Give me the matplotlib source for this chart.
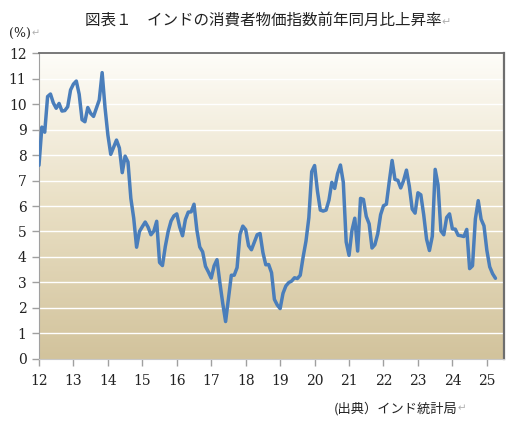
# インドの消費者物価指数（前年同月比）のグラフ
import numpy as np
import matplotlib.pyplot as plt
from matplotlib.colors import LinearSegmentedColormap

# 月次データ（2012年1月〜2025年4月）
y2012 = [7.6, 9.1, 8.9, 10.3, 10.4, 10.05, 9.84, 10.03, 9.73, 9.75, 9.90, 10.56]
y2013 = [10.79, 10.91, 10.39, 9.39, 9.31, 9.87, 9.64, 9.52, 9.84, 10.17, 11.24, 9.87]
y2014 = [8.79, 8.03, 8.31, 8.59, 8.28, 7.31, 7.96, 7.73, 6.30, 5.52, 4.38, 5.00]
y2015 = [5.19, 5.37, 5.17, 4.87, 5.01, 5.40, 3.78, 3.66, 4.41, 5.00, 5.41, 5.61]
y2016 = [5.69, 5.18, 4.83, 5.47, 5.76, 5.77, 6.07, 5.05, 4.39, 4.20, 3.63, 3.41]
y2017 = [3.17, 3.65, 3.89, 2.99, 2.18, 1.46, 2.36, 3.28, 3.28, 3.58, 4.88, 5.21]
y2018 = [5.07, 4.44, 4.28, 4.58, 4.87, 4.92, 4.17, 3.69, 3.70, 3.38, 2.33, 2.11]
y2019 = [1.97, 2.57, 2.86, 2.99, 3.05, 3.18, 3.15, 3.28, 3.99, 4.62, 5.54, 7.35]
y2020 = [7.59, 6.58, 5.84, 5.80, 5.84, 6.23, 6.93, 6.69, 7.27, 7.61, 6.93, 4.59]
y2021 = [4.06, 5.03, 5.52, 4.23, 6.30, 6.26, 5.59, 5.30, 4.35, 4.48, 4.91, 5.66]
y2022 = [6.01, 6.07, 6.95, 7.79, 7.04, 7.01, 6.71, 7.00, 7.41, 6.77, 5.88, 5.72]
y2023 = [6.52, 6.44, 5.66, 4.70, 4.25, 4.81, 7.44, 6.83, 5.02, 4.87, 5.55, 5.69]
y2024 = [5.10, 5.09, 4.85, 4.83, 4.80, 5.08, 3.54, 3.65, 5.49, 6.21, 5.48, 5.22]
y2025 = [4.26, 3.61, 3.34, 3.16]

valeurs = (y2012 + y2013 + y2014 + y2015 + y2016 + y2017 + y2018 + y2019
           + y2020 + y2021 + y2022 + y2023 + y2024 + y2025)
annees = list(range(12, 26))

x = 12 + np.arange(len(valeurs)) / 12.0

jp = ['Noto Sans CJK JP', 'DejaVu Sans']

fig = plt.figure(figsize=(5.17, 4.23), dpi=100)
ax = fig.add_axes([0.0754, 0.152, 0.8996, 0.722])

# fond en degrade (blanc en haut, beige en bas)
cmap = LinearSegmentedColormap.from_list("fond", ["#d2c39c", "#e9dfc4", "#fefdf9"])
grad = np.linspace(0, 1, 256).reshape(-1, 1)
ax.imshow(grad, cmap=cmap, origin='lower', aspect='auto',
          extent=[0, 1, 0, 1], transform=ax.transAxes, zorder=0)

for v in range(1, 12):
    ax.axhline(v, color='white', lw=1.0, zorder=1)

ax.plot(x, valeurs, color='#4a7ebb', lw=2.5, zorder=3,
        solid_joinstyle='round', solid_capstyle='round')

ax.set_xlim(12, 25.5)
ax.set_ylim(0, 12)
ax.set_xticks(annees)
ax.set_xticklabels([str(a) for a in annees])
ax.set_yticks(range(0, 13))

for lab in ax.get_xticklabels() + ax.get_yticklabels():
    lab.set_family('DejaVu Serif')
    lab.set_fontsize(10)
    lab.set_color('#222222')

ax.tick_params(axis='y', direction='out', length=5, width=1, color='#a0a0a0', pad=4)
ax.tick_params(axis='x', direction='out', length=5, width=1, color='#a0a0a0', pad=6)

ax.spines['left'].set_color('#a0a0a0')
ax.spines['bottom'].set_color('#c8c8c8')
ax.spines['top'].set_color('#6e6e6e')
ax.spines['right'].set_color('#6e6e6e')
ax.spines['top'].set_linewidth(1.3)
ax.spines['right'].set_linewidth(1.6)

# textes
t = fig.text(0.51, 0.952, "図表１　インドの消費者物価指数前年同月比上昇率",
             ha='center', va='center', fontsize=11.2, family=jp, color='#222222')
ax.annotate("↵", xy=(1, 0.1), xycoords=t, fontsize=8, color='#b0b0b0',
            family=['DejaVu Sans'], va='bottom', ha='left')

p = fig.text(0.018, 0.921, "(%)", ha='left', va='center', fontsize=9,
             family=['DejaVu Serif'], color='#222222')
ax.annotate("↵", xy=(1, 0.1), xycoords=p, fontsize=7, color='#b0b0b0',
            family=['DejaVu Sans'], va='bottom', ha='left')

s = fig.text(0.645, 0.035, "(出典）インド統計局", ha='left', va='center',
             fontsize=9.5, family=jp, color='#222222')
ax.annotate("↵", xy=(1, 0.1), xycoords=s, fontsize=7.5, color='#b0b0b0',
            family=['DejaVu Sans'], va='bottom', ha='left')

fig.savefig("out.png", dpi=100)
